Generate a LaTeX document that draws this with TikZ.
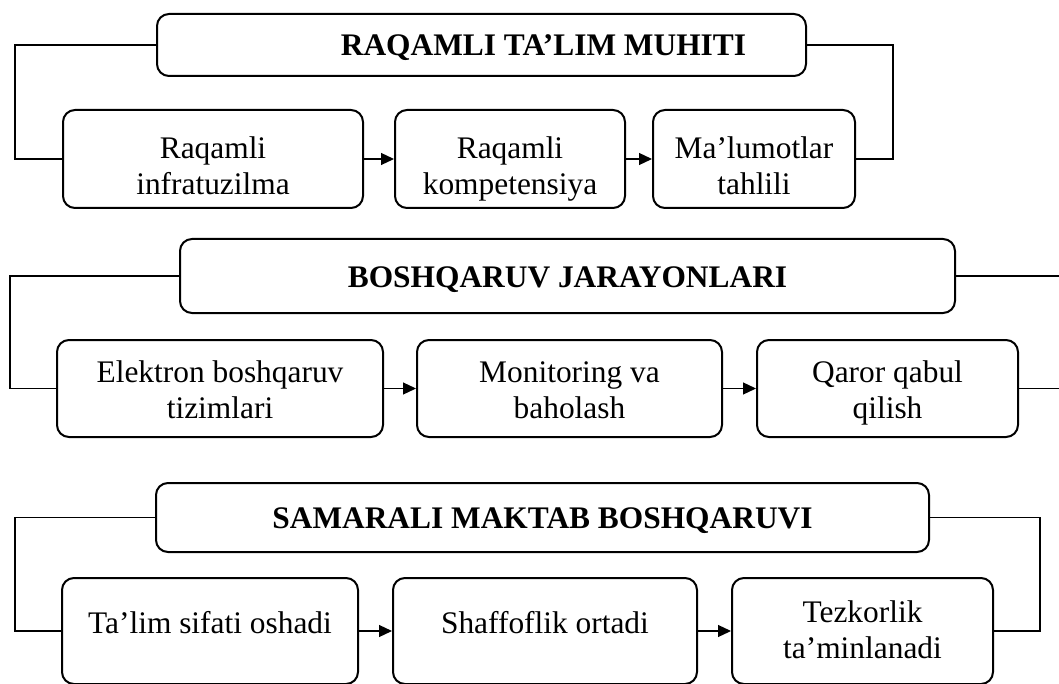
\documentclass[tikz,border=0pt]{standalone}
\usepackage{fontspec}
\setmainfont{Liberation Serif}
\usetikzlibrary{arrows.meta, calc}
\tikzset{
    headbox/.style={draw, line width=1pt, rounded corners=6pt, inner sep=0pt,
        minimum height=#1, text height=12pt, text depth=1pt,
        font=\fontsize{15.7}{18}\selectfont\bfseries},
    itembox/.style={draw, line width=1pt, rounded corners=6pt, inner sep=0pt,
        align=center, minimum height=#1, font=\fontsize{15.7}{18}\selectfont},
    lineup/.style 2 args={text height=#1, text depth=#2},
    link/.style={line width=0.6pt},
    flow/.style={line width=0.6pt, -{Triangle[length=6.5pt, width=6pt]}}
}
\begin{document}
\begin{tikzpicture}[x=0.5pt, y=-0.5pt]
\useasboundingbox (0,0) rectangle (1059,684);

% raqamli muhit
\node[headbox=31pt, minimum width=324.5pt] (H1) at (481.5,45) {\hspace*{62pt}RAQAMLI TA’LIM MUHITI};
\node[itembox=49pt, minimum width=150pt, lineup={40pt}{4pt}] (B11) at (213,159) {Raqamli\\infratuzilma};
\node[itembox=49pt, minimum width=115pt, lineup={40pt}{4pt}] (B12) at (510,159) {Raqamli\\kompetensiya};
\node[itembox=49pt, minimum width=101pt, lineup={40pt}{4pt}] (B13) at (754,159) {Ma’lumotlar\\tahlili};
\coordinate (L1) at (15,45);
\coordinate (R1) at (893,45);

% boshqaruv
\node[headbox=37pt, minimum width=387.5pt] (H2) at (567.5,276) {BOSHQARUV JARAYONLARI};
\node[itembox=48.5pt, minimum width=163pt, lineup={34pt}{4.5pt}] (B21) at (220,388.5) {Elektron boshqaruv\\tizimlari};
\node[itembox=48.5pt, minimum width=152.5pt, lineup={34pt}{4.5pt}] (B22) at (569.5,388.5) {Monitoring va\\baholash};
\node[itembox=48.5pt, minimum width=130.5pt, lineup={34pt}{4.5pt}] (B23) at (887.5,388.5) {Qaror qabul\\qilish};
\coordinate (L2) at (10,276);
\coordinate (R2) at (1075,276);

% natija
\node[headbox=34.5pt, minimum width=386.5pt] (H3) at (542.5,517.5) {SAMARALI MAKTAB BOSHQARUVI};
\node[itembox=53pt, minimum width=148pt, lineup={12pt}{10pt}] (B31) at (210,631) {Ta’lim sifati oshadi};
\node[itembox=53pt, minimum width=152pt, lineup={12pt}{10pt}] (B32) at (545,631) {Shaffoflik ortadi};
\node[itembox=53pt, minimum width=130.5pt, lineup={31pt}{4pt}] (B33) at (862.5,631) {Tezkorlik\\ta’minlanadi};
\coordinate (L3) at (15,517.5);
\coordinate (R3) at (1040,517.5);

\foreach \r in {1,2,3}{
    \draw[link] (H\r.west) -- (L\r) |- (B\r1.west);
    \draw[link] (H\r.east) -- (R\r) |- (B\r3.east);
    \draw[flow] (B\r1.east) -- (B\r2.west);
    \draw[flow] (B\r2.east) -- (B\r3.west);
}
\end{tikzpicture}
\end{document}
